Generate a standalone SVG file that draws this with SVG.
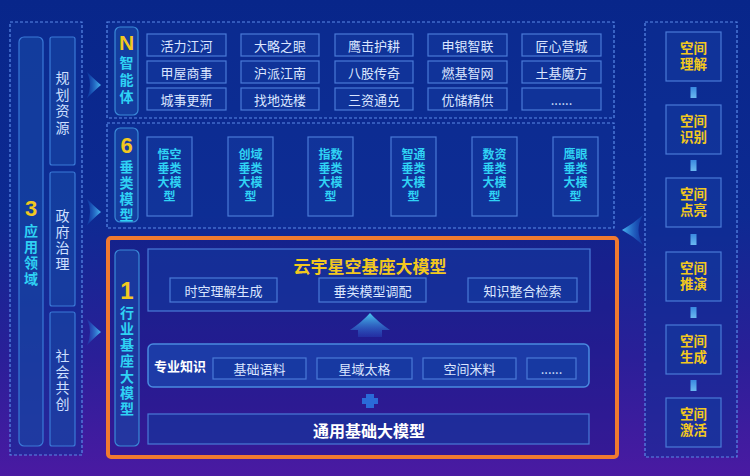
<svg xmlns="http://www.w3.org/2000/svg" width="750" height="476" viewBox="0 0 750 476">
<defs>
<linearGradient id="bg" x1="0" y1="0" x2="0" y2="1">
<stop offset="0" stop-color="#08268a"/>
<stop offset="0.45" stop-color="#0d2a92"/>
<stop offset="0.75" stop-color="#2a1f98"/>
<stop offset="1" stop-color="#4a1aa2"/>
</linearGradient>
<linearGradient id="arrowR" x1="0" y1="0" x2="1" y2="0">
<stop offset="0" stop-color="#1a6ad8" stop-opacity="0.2"/>
<stop offset="1" stop-color="#4ab8f0"/>
</linearGradient>
<linearGradient id="arrowL" x1="1" y1="0" x2="0" y2="0">
<stop offset="0" stop-color="#1a6ad8" stop-opacity="0.2"/>
<stop offset="1" stop-color="#4ab8f0"/>
</linearGradient>
<linearGradient id="arrowU" x1="0" y1="1" x2="0" y2="0">
<stop offset="0" stop-color="#2a5ad0" stop-opacity="0.3"/>
<stop offset="1" stop-color="#4ac8f0"/>
</linearGradient>
<linearGradient id="bar" x1="0" y1="0" x2="0" y2="1">
<stop offset="0" stop-color="#3a8ae0"/>
<stop offset="1" stop-color="#6ab8f0"/>
</linearGradient>
<style>
.dash{fill:#0e2f96;fill-opacity:0.5;stroke:#5a8ae8;stroke-width:1.2;stroke-dasharray:3 2}
.col{fill:#1a4aa8;fill-opacity:0.55;stroke:#3a7ad8;stroke-width:1.2}
.lab{fill:#1a4aa8;fill-opacity:0.6;stroke:#3a8ad8;stroke-width:1.2}
.item{fill:#14389e;fill-opacity:0.6;stroke:#4a7ad8;stroke-width:1.2}
.sp{fill:#1a48b0;fill-opacity:0.7;stroke:#4a8ae0;stroke-width:1.5}
.t{font-family:"Noto Sans CJK SC",sans-serif;text-anchor:middle;dominant-baseline:central}
.v{font-family:"Liberation Sans","Noto Sans CJK SC",sans-serif;text-anchor:middle;dominant-baseline:central}
.w{fill:#dbe6ff;font-size:13px}
.c{fill:#2fd2f4;font-size:12px;font-weight:bold}
.cy{fill:#2fd2f4;font-size:14px;font-weight:bold}
.y{fill:#f2c81e;font-weight:bold}
.g{fill:#cfe0ff;font-size:14px}
.ys{fill:#f2c81e;font-size:13.5px;font-weight:bold}
</style>
</defs>
<rect width="750" height="476" fill="url(#bg)"/>

<!-- Left: application domains -->
<g id="apply">
<rect class="dash" x="10" y="22" width="72" height="433"/>
<rect class="col" x="19" y="37" width="24" height="409" rx="5"/>
<text class="v y" x="31" y="208" font-size="22">3</text>
<text class="v cy"><tspan x="31" y="231">应</tspan><tspan x="31" y="247">用</tspan><tspan x="31" y="263">领</tspan><tspan x="31" y="279">域</tspan></text>
</g>
<g id="planning">
<rect class="col" x="50" y="37" width="25" height="128" rx="2"/>
<text class="v g"><tspan x="62.5" y="78">规</tspan><tspan x="62.5" y="94.5">划</tspan><tspan x="62.5" y="111">资</tspan><tspan x="62.5" y="127.5">源</tspan></text>
</g>
<g id="gov">
<rect class="col" x="50" y="172" width="25" height="134" rx="2"/>
<text class="v g"><tspan x="62.5" y="216">政</tspan><tspan x="62.5" y="232">府</tspan><tspan x="62.5" y="248">治</tspan><tspan x="62.5" y="264">理</tspan></text>
</g>
<g id="social">
<rect class="col" x="50" y="312" width="25" height="134" rx="2"/>
<text class="v g"><tspan x="62.5" y="356">社</tspan><tspan x="62.5" y="372">会</tspan><tspan x="62.5" y="388">共</tspan><tspan x="62.5" y="404">创</tspan></text>
</g>

<!-- Top: agents -->
<g id="agents">
<rect class="dash" x="107" y="22" width="507" height="96"/>
<rect class="lab" x="115" y="27" width="23" height="88" rx="5"/>
<text class="v y" x="126.5" y="42" font-size="21">N</text>
<text class="v cy"><tspan x="126.5" y="63">智</tspan><tspan x="126.5" y="80">能</tspan><tspan x="126.5" y="97">体</tspan></text>
<g>
<rect class="item" x="147" y="34" width="79" height="22"/>
<rect class="item" x="241" y="34" width="78" height="22"/>
<rect class="item" x="335" y="34" width="78" height="22"/>
<rect class="item" x="428" y="34" width="79" height="22"/>
<rect class="item" x="522" y="34" width="79" height="22"/>
<rect class="item" x="147" y="61" width="79" height="22"/>
<rect class="item" x="241" y="61" width="78" height="22"/>
<rect class="item" x="335" y="61" width="78" height="22"/>
<rect class="item" x="428" y="61" width="79" height="22"/>
<rect class="item" x="522" y="61" width="79" height="22"/>
<rect class="item" x="147" y="88" width="79" height="22"/>
<rect class="item" x="241" y="88" width="78" height="22"/>
<rect class="item" x="335" y="88" width="78" height="22"/>
<rect class="item" x="428" y="88" width="79" height="22"/>
<rect class="item" x="522" y="88" width="79" height="22"/>
</g>
<text class="t w" x="186.5" y="45">活力江河</text>
<text class="t w" x="280" y="45">大略之眼</text>
<text class="t w" x="374" y="45">鹰击护耕</text>
<text class="t w" x="467.5" y="45">申银智联</text>
<text class="t w" x="561.5" y="45">匠心营城</text>
<text class="t w" x="186.5" y="72">甲屋商事</text>
<text class="t w" x="280" y="72">沪派江南</text>
<text class="t w" x="374" y="72">八股传奇</text>
<text class="t w" x="467.5" y="72">燃基智网</text>
<text class="t w" x="561.5" y="72">土基魔方</text>
<text class="t w" x="186.5" y="99">城事更新</text>
<text class="t w" x="280" y="99">找地选楼</text>
<text class="t w" x="374" y="99">三资通兑</text>
<text class="t w" x="467.5" y="99">优储精供</text>
<text class="t w" x="561.5" y="99" font-size="10">......</text>
</g>

<!-- Middle: vertical models -->
<g id="vertical">
<rect class="dash" x="107" y="123" width="507" height="105"/>
<rect class="lab" x="115" y="128" width="23" height="94" rx="5"/>
<text class="v y" x="126.5" y="145" font-size="22">6</text>
<text class="v cy"><tspan x="126.5" y="167">垂</tspan><tspan x="126.5" y="183">类</tspan><tspan x="126.5" y="199">模</tspan><tspan x="126.5" y="215">型</tspan></text>
<rect class="item" x="147" y="137" width="45" height="79"/>
<rect class="item" x="228" y="137" width="45" height="79"/>
<rect class="item" x="308" y="137" width="45" height="79"/>
<rect class="item" x="391" y="137" width="45" height="79"/>
<rect class="item" x="472" y="137" width="45" height="79"/>
<rect class="item" x="553" y="137" width="45" height="79"/>
<text class="v c"><tspan x="169.5" y="155">悟空</tspan><tspan x="169.5" y="169">垂类</tspan><tspan x="169.5" y="183">大模</tspan><tspan x="169.5" y="197">型</tspan></text>
<text class="v c"><tspan x="250.5" y="155">创域</tspan><tspan x="250.5" y="169">垂类</tspan><tspan x="250.5" y="183">大模</tspan><tspan x="250.5" y="197">型</tspan></text>
<text class="v c"><tspan x="330.5" y="155">指数</tspan><tspan x="330.5" y="169">垂类</tspan><tspan x="330.5" y="183">大模</tspan><tspan x="330.5" y="197">型</tspan></text>
<text class="v c"><tspan x="413.5" y="155">智通</tspan><tspan x="413.5" y="169">垂类</tspan><tspan x="413.5" y="183">大模</tspan><tspan x="413.5" y="197">型</tspan></text>
<text class="v c"><tspan x="494.5" y="155">数资</tspan><tspan x="494.5" y="169">垂类</tspan><tspan x="494.5" y="183">大模</tspan><tspan x="494.5" y="197">型</tspan></text>
<text class="v c"><tspan x="575.5" y="155">鹰眼</tspan><tspan x="575.5" y="169">垂类</tspan><tspan x="575.5" y="183">大模</tspan><tspan x="575.5" y="197">型</tspan></text>
</g>

<!-- Bottom: industry foundation model -->
<g id="foundation">
<rect x="108" y="238" width="509" height="219" rx="3" fill="#1a1880" fill-opacity="0.35" stroke="#f07a30" stroke-width="4"/>
<rect class="lab" x="115" y="250" width="24" height="196" rx="5"/>
<text class="v y" x="127" y="290" font-size="24">1</text>
<text class="v cy"><tspan x="127" y="313">行</tspan><tspan x="127" y="329">业</tspan><tspan x="127" y="345">基</tspan><tspan x="127" y="361">座</tspan><tspan x="127" y="377">大</tspan><tspan x="127" y="393">模</tspan><tspan x="127" y="409">型</tspan></text>
</g>
<g id="yunyu">
<rect class="item" x="148" y="249" width="442" height="62"/>
<text class="t y" x="370" y="265" font-size="17">云宇星空基座大模型</text>
<rect class="item" x="170" y="278" width="107" height="24"/>
<rect class="item" x="319" y="278" width="107" height="24"/>
<rect class="item" x="468" y="278" width="109" height="24"/>
<text class="t w" x="223.5" y="290">时空理解生成</text>
<text class="t w" x="372.5" y="290">垂类模型调配</text>
<text class="t w" x="522.5" y="290">知识整合检索</text>
</g>
<g id="knowledge">
<rect class="sp" x="148" y="344" width="441" height="43" rx="5"/>
<text class="t" x="180" y="365" font-size="13" font-weight="bold" fill="#ffffff">专业知识</text>
<rect class="item" x="213" y="358" width="93" height="21"/>
<rect class="item" x="317" y="358" width="95" height="21"/>
<rect class="item" x="423" y="358" width="93" height="21"/>
<rect class="item" x="527" y="358" width="49" height="21"/>
<text class="t w" x="259.5" y="368.5">基础语料</text>
<text class="t w" x="364.5" y="368.5">星域太格</text>
<text class="t w" x="469.5" y="368.5">空间米料</text>
<text class="t w" x="551.5" y="368.5" font-size="9">......</text>
</g>
<g id="general">
<rect class="item" x="148" y="414" width="441" height="30"/>
<text class="t" x="369" y="430" font-size="16" font-weight="bold" fill="#ffffff">通用基础大模型</text>
</g>

<!-- Right: spatial abilities -->
<g id="spatial">
<rect class="dash" x="645" y="22" width="92" height="435"/>
</g>
<g id="s1"><rect class="item" x="666" y="32" width="55" height="49"/><text class="v ys"><tspan x="693.5" y="48">空间</tspan><tspan x="693.5" y="64">理解</tspan></text></g>
<g id="s2"><rect class="item" x="666" y="105" width="55" height="49"/><text class="v ys"><tspan x="693.5" y="121">空间</tspan><tspan x="693.5" y="137">识别</tspan></text></g>
<g id="s3"><rect class="item" x="666" y="178" width="55" height="49"/><text class="v ys"><tspan x="693.5" y="194">空间</tspan><tspan x="693.5" y="210">点亮</tspan></text></g>
<g id="s4"><rect class="item" x="666" y="252" width="55" height="49"/><text class="v ys"><tspan x="693.5" y="268">空间</tspan><tspan x="693.5" y="284">推演</tspan></text></g>
<g id="s5"><rect class="item" x="666" y="325" width="55" height="49"/><text class="v ys"><tspan x="693.5" y="341">空间</tspan><tspan x="693.5" y="357">生成</tspan></text></g>
<g id="s6"><rect class="item" x="666" y="398" width="55" height="49"/><text class="v ys"><tspan x="693.5" y="414">空间</tspan><tspan x="693.5" y="430">激活</tspan></text></g>

<!-- Connectors -->
<g id="connectors">
<rect x="690.5" y="87" width="6" height="11" fill="url(#bar)"/>
<rect x="690.5" y="160" width="6" height="11" fill="url(#bar)"/>
<rect x="690.5" y="234" width="6" height="11" fill="url(#bar)"/>
<rect x="690.5" y="307" width="6" height="11" fill="url(#bar)"/>
<rect x="690.5" y="380" width="6" height="11" fill="url(#bar)"/>
<path d="M87,72 Q95,80 101,85 Q95,90 87,98 Q93,85 87,72 Z" fill="url(#arrowR)"/>
<path d="M87,199 Q95,207 101,212 Q95,217 87,225 Q93,212 87,199 Z" fill="url(#arrowR)"/>
<path d="M87,319 Q95,327 101,332 Q95,337 87,345 Q93,332 87,319 Z" fill="url(#arrowR)"/>
<path d="M643,215 Q633,224 622,230 Q633,236 643,245 Q634,230 643,215 Z" fill="url(#arrowL)"/>
<path d="M350,330 Q362,322 370,313 Q378,322 390,330 L382,330 L382,337 L358,337 L358,330 Z" fill="url(#arrowU)"/>
<path d="M366,394 h8 v4 h4 v6 h-4 v4 h-8 v-4 h-4 v-6 h4 Z" fill="#2a6ad8"/>
</g>
</svg>
